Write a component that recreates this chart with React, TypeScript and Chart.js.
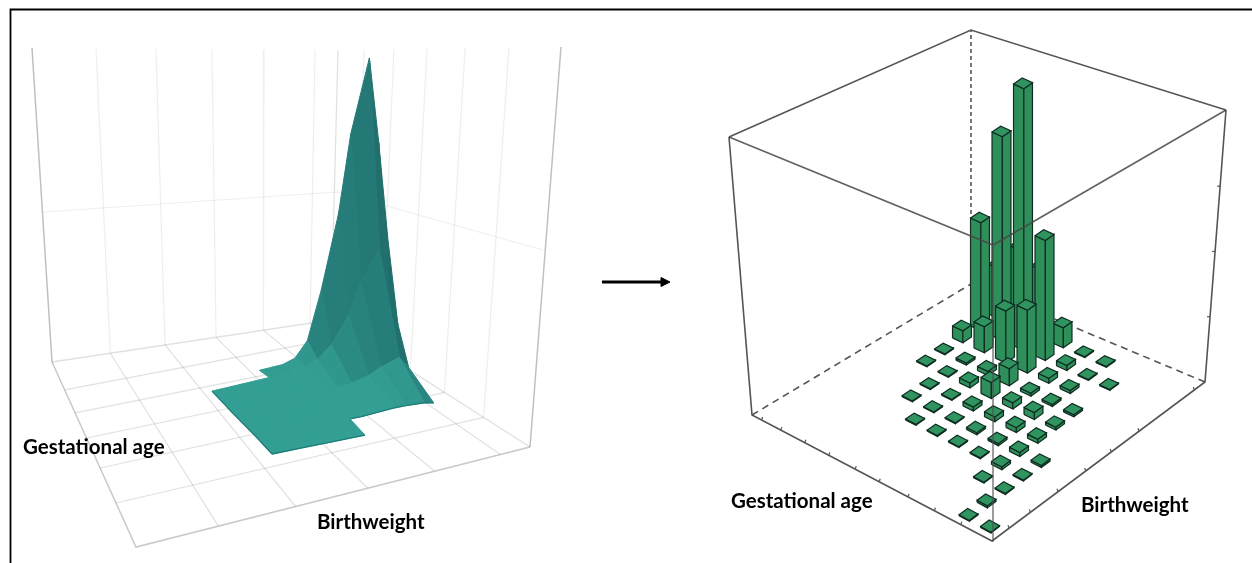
import React, { useEffect, useRef } from "react";
import { Chart, registerables } from "chart.js";

Chart.register(...registerables);

// ---------- Right panel: histogram bars (bins and height as % of the box) ----------
const gestationalBins = [0,1,1,1,1,1,2,2,2,2,2,2,2,3,3,3,3,3,3,3,3,4,4,4,4,4,4,4,4,5,5,5,5,5,5,5,5,6,6,6,6,6,6,6,6,7,7,7,7,7,7,7,8,8,8,8,8];
const birthweightBins = [0,0,1,2,3,4,2,3,4,5,6,7,9,3,4,5,6,7,8,9,10,3,4,5,6,7,8,9,10,3,4,5,6,7,8,9,10,3,4,5,6,7,8,9,10,4,5,6,7,8,9,10,6,7,8,9,10];
const barPercent = [0.3,0.3,0.7,0.3,0.3,0.7,0.3,1,1.4,1.4,1,0.7,0.3,0.3,0.7,1.7,2.4,0.7,1,0.3,0.3,0.3,0.7,1.7,2.1,1,1.7,1.7,0.3,0.3,0.3,1.4,5.5,5.9,21.7,41.4,6.9,0.3,0.3,0.3,1.7,1.4,17.9,90.3,23.4,0.3,0.3,0.3,0.7,9,70.3,26.9,0.3,0.3,4.1,37.2,17.2];

// ---------- Left panel: density surface (height nodes, null = no surface) ----------
const birthweightNodes = [0,1,1.85,2.6,3,3.4,3.85,4.4,4.8,5.4,5.7,6,6.4];
const gestationalNodes = [0,0.75,2,3,3.5];
const n: null = null;
const surfaceRow0 = [0,0,0,0,0,n,n,n,n,n,n,n,n];
const surfaceRow1 = [1,1,1,1,1,1,2,3,3,2,0,n,n];
const surfaceRow2 = [1,2,2,3,3,4,6,10,16,22,10,n,n];
const surfaceRow3 = [2,3,4,6,8,12,24,50,80,110,70,30,n];
const surfaceRow4 = [n,n,1,2,6,21,69,141,219,291,205,105,16];
const surfaceRows = [surfaceRow0,surfaceRow1,surfaceRow2,surfaceRow3,surfaceRow4];

// ---------- Wall / floor grid divisions ----------
const leftWallDivisions = [0,0.209,0.405,0.588,0.758,0.925,1];
const rightWallDivisions = [0,0.117,0.251,0.399,0.57,0.767,1];
const leftEdgeDivisions = [0.151,0.275,0.411,0.573,0.762];

// ---------- Tick fractions on the right box ----------
const ticksFrontLeft = [0.13,0.24,0.35,0.47,0.57,0.68,0.78,0.88,0.96];
const ticksFrontRight = [0.08,0.18,0.31,0.44,0.56,0.69,0.95];
const ticksVertical = [0.24,0.48,0.72];

// ---------- Labels ----------
const labels = [
  { text: "Gestational age", x: 23, y: 447 },
  { text: "Birthweight", x: 317, y: 522 },
  { text: "Gestational age", x: 731, y: 501 },
  { text: "Birthweight", x: 1081, y: 505 },
];

type P = { x: number; y: number };
const pt = (x: number, y: number): P => ({ x, y });
const mix = (a: P, b: P, t: number): P => pt(a.x + (b.x - a.x) * t, a.y + (b.y - a.y) * t);

const poly = (points: P[], fill: string | null, stroke: string, width: number, dash: number[] = []) => ({
  type: "scatter" as const,
  data: points,
  showLine: true,
  fill: fill ? "shape" : false,
  backgroundColor: fill || "transparent",
  borderColor: stroke,
  borderWidth: width,
  borderDash: dash,
  pointRadius: 0,
  tension: 0,
});

const hex = (c: number[]) => `rgb(${c.map((v) => Math.round(v)).join(",")})`;

function leftPanel(out: any[]) {
  const backLeft = pt(52, 362), back = pt(331, 320), right = pt(530, 447), front = pt(136, 547);
  const topLeft = pt(32, 48), topBack = pt(338, 50), topRight = pt(561, 47);
  const faint = "rgba(120,120,120,0.13)";
  const mid = "rgba(120,120,120,0.22)";
  const edge = "rgba(120,120,120,0.4)";
  leftWallDivisions.forEach((f) => out.push(poly([mix(topLeft, topBack, f), mix(backLeft, back, f)], null, faint, 1.2)));
  rightWallDivisions.forEach((f) => out.push(poly([mix(topBack, topRight, f), mix(back, right, f)], null, faint, 1.2)));
  out.push(poly([pt(43, 212), pt(337, 192)], null, faint, 1.2));
  out.push(poly([pt(337, 192), pt(543, 250)], null, faint, 1.2));
  leftWallDivisions.slice(1, -1).forEach((f) => out.push(poly([mix(backLeft, back, f), mix(front, right, f)], null, mid, 1.2)));
  rightWallDivisions.slice(1, -1).forEach((f, k) =>
    out.push(poly([mix(backLeft, front, leftEdgeDivisions[k]), mix(back, right, f)], null, mid, 1.2))
  );
  out.push(poly([topLeft, backLeft], null, edge, 1.5));
  out.push(poly([topRight, right], null, edge, 1.5));
  out.push(poly([backLeft, back, right], null, mid, 1.4));
  out.push(poly([backLeft, front, right], null, edge, 1.5));

  // Surface
  const origin = pt(272, 454);
  const toScreen = (a: number, b: number, z: number) =>
    pt(origin.x + 31 * a - 20 * b, origin.y - 6.3 * a - 20.3 * b - z);
  const quads: { pts: P[]; depth: number; color: string }[] = [];
  const dark = [31, 108, 107], light = [51, 158, 148];
  for (let r = 0; r < surfaceRows.length - 1; r++) {
    for (let c = 0; c < birthweightNodes.length - 1; c++) {
      const z00 = surfaceRows[r][c], z10 = surfaceRows[r][c + 1], z01 = surfaceRows[r + 1][c], z11 = surfaceRows[r + 1][c + 1];
      if (z00 === null || z10 === null || z01 === null || z11 === null) continue;
      const a0 = birthweightNodes[c], a1 = birthweightNodes[c + 1], b0 = gestationalNodes[r], b1 = gestationalNodes[r + 1];
      const pts = [toScreen(a0, b0, z00), toScreen(a1, b0, z10), toScreen(a1, b1, z11), toScreen(a0, b1, z01)];
      const dzda = ((z10 - z00 + z11 - z01) / 2) / ((a1 - a0) * 32);
      const dzdb = ((z01 - z00 + z11 - z10) / 2) / ((b1 - b0) * 28);
      const len = Math.hypot(dzda, dzdb, 1);
      const nx = -dzda / len, nz = 1 / len;
      const t = Math.max(0, Math.min(1, nz * nz * 0.8 - nx * 0.25 + 0.2));
      const col = dark.map((d, i) => d + (light[i] - d) * t);
      quads.push({ pts: [...pts, pts[0]], depth: b0 + b1 + (a0 + a1) * 0.02, color: hex(col) });
    }
  }
  quads.sort((p, q) => q.depth - p.depth);
  quads.forEach((q) => out.push(poly(q.pts, q.color, q.color, 1)));

  // Darker rim along the front of the sheet
  const rimColor = "#1f7f78";
  const row0 = birthweightNodes.slice(0, 5).map((a, k) => toScreen(a, gestationalNodes[0], surfaceRow0[k] as number));
  const row1 = birthweightNodes.slice(4, 11).map((a, k) => toScreen(a, gestationalNodes[1], surfaceRow1[k + 4] as number));
  out.push(poly(row0, null, rimColor, 1.3));
  out.push(poly(row1, null, rimColor, 1.3));
  out.push(poly([row0[0], toScreen(0, gestationalNodes[1], 1), toScreen(0, gestationalNodes[2], 1), toScreen(0, gestationalNodes[3], 2)], null, rimColor, 1.3));
}

function rightPanel(out: any[]) {
  const F = pt(992, 541), L = pt(752, 415), R = pt(1205, 382), B = pt(971, 284);
  const Ft = pt(993, 245), Lt = pt(729, 137), Rt = pt(1226, 110), Bt = pt(971, 30);
  const wire = "#555555";
  out.push(poly([L, B], null, wire, 1.6, [7, 5]));
  out.push(poly([R, B], null, wire, 1.6, [7, 5]));
  out.push(poly([B, Bt], null, wire, 1.6, [4, 3]));
  out.push(poly([Lt, Bt, Rt], null, wire, 1.6));
  out.push(poly([Lt, L, F, R, Rt], null, wire, 1.6));
  ticksFrontLeft.forEach((f) => {
    const p = mix(F, L, f);
    out.push(poly([p, pt(p.x + 1, p.y - 3)], null, wire, 1.2));
  });
  ticksFrontRight.forEach((f) => {
    const p = mix(F, R, f);
    out.push(poly([p, pt(p.x - 1, p.y - 3)], null, wire, 1.2));
  });
  ticksVertical.forEach((f) => {
    const p = mix(R, Rt, f);
    out.push(poly([p, pt(p.x - 3, p.y)], null, wire, 1.2));
  });

  // Bars
  const K = 2.9;
  const project = (i: number, j: number, h: number) =>
    pt(990 - 21.5 * i + 18 * j, 527 - 11.7 * i - 13.6 * j + 0.2 * i * j - h * K);
  const order = gestationalBins.map((_, k) => k).sort((p, q) => gestationalBins[q] + birthweightBins[q] - gestationalBins[p] - birthweightBins[p]);
  const w = 0.24;
  const face = "#2f8f5b", topFace = "#2f9460", line = "#0f2c20";
  order.forEach((k) => {
    const i = gestationalBins[k], j = birthweightBins[k], h = barPercent[k];
    const left0 = project(i + w, j - w, 0), front0 = project(i - w, j - w, 0), right0 = project(i - w, j + w, 0);
    const left1 = project(i + w, j - w, h), front1 = project(i - w, j - w, h), right1 = project(i - w, j + w, h), back1 = project(i + w, j + w, h);
    out.push(poly([left0, front0, front1, left1, left0], face, line, 1.2));
    out.push(poly([front0, right0, right1, front1, front0], face, line, 1.2));
    out.push(poly([left1, front1, right1, back1, left1], topFace, line, 1.2));
  });
  out.push(poly([Lt, Ft, Rt], null, "rgba(70,70,70,0.85)", 1.6));
  out.push(poly([F, Ft], null, "rgba(80,80,80,0.7)", 1.6));
}

function decorations(out: any[]) {
  out.push(poly([pt(10.5, 563), pt(10.5, 9.5), pt(1252, 9.5)], null, "#000000", 1.8));
  out.push(poly([pt(602, 282), pt(664, 282)], null, "#000000", 3));
  out.push(poly([pt(661, 277.5), pt(670, 282), pt(661, 286.5), pt(661, 277.5)], "#000000", "#000000", 1));
}

const textPlugin = {
  id: "panelText",
  afterDraw(chart: any) {
    const { ctx, scales } = chart;
    ctx.save();
    ctx.fillStyle = "#000000";
    ctx.font = "bold 20.5px Lato";
    ctx.textBaseline = "middle";
    labels.forEach((l) => ctx.fillText(l.text, scales.x.getPixelForValue(l.x), scales.y.getPixelForValue(l.y)));
    ctx.restore();
  },
};

export default function App() {
  const ref = useRef<HTMLCanvasElement>(null);
  useEffect(() => {
    const out: any[] = [];
    leftPanel(out);
    rightPanel(out);
    decorations(out);
    out.reverse(); // Chart.js paints the first dataset last
    const chart = new Chart(ref.current as HTMLCanvasElement, {
      type: "scatter",
      data: { datasets: out },
      plugins: [textPlugin],
      options: {
        animation: false,
        responsive: false,
        layout: { padding: 0 },
        scales: {
          x: { type: "linear", min: 0, max: 1252, display: false },
          y: { type: "linear", min: 0, max: 563, reverse: true, display: false },
        },
        plugins: {
          legend: { display: false },
          tooltip: { enabled: false },
          filler: { drawTime: "beforeDatasetDraw" },
        },
      },
    } as any);
    return () => chart.destroy();
  }, []);
  return (
    <div style={{ position: "fixed", left: 0, top: 0, width: 1252, height: 563, background: "#fff", overflow: "hidden" }}>
      <canvas ref={ref} width={1252} height={563} style={{ display: "block", filter: "blur(0.55px)" }} />
    </div>
  );
}
